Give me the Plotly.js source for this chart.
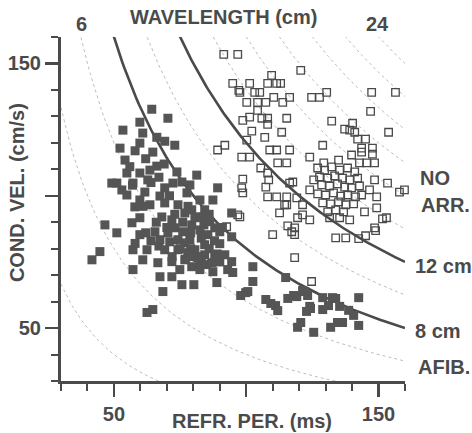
<!DOCTYPE html>
<html>
<head>
<meta charset="utf-8">
<script src="https://cdn.plot.ly/plotly-3.0.1.min.js"></script>
<style>html,body{margin:0;padding:0;background:#fff;}#chart{width:472px;height:433px;}</style>
</head>
<body>
<div id="chart"></div>
<script>
// AFIB (filled squares): refractory period (ms) and conduction velocity (cm/s)
const afibRP = [
  64.3,70.4,59.8,53.4,60.9,66.2,69.2,59.8,52.3,64.7,
  73.0,54.2,66.2,54.9,59.8,63.6,73.8,81.3,51.1,57.2,
  72.3,75.7,78.7,54.9,59.8,67.4,77.6,82.5,89.2,87.4,
  62.8,69.2,49.2,53.0,57.9,63.6,69.2,74.2,79.4,84.3,
  94.5,83.2,59.8,68.1,71.9,76.8,79.4,46.6,56.8,51.1,
  59.8,65.5,70.4,76.0,82.5,85.5,88.1,94.5,44.7,41.7,
  57.2,62.5,69.2,74.2,76.8,80.6,84.3,90.0,60.9,66.6,
  57.2,71.9,76.8,79.4,81.7,87.0,88.1,94.5,94.9,102.5,
  67.4,71.9,75.7,80.2,68.5,88.9,87.4,102.5,100.6,62.5,
  64.7,78.7,74.2,71.1,82.5,74.9,84.3,77.9,73.0,67.4,
  80.6,86.2,90.0,91.9,82.5,93.0,61.7,
  78,81,84,86,76,73,79,83,88,91,
  75,79,83,86,89,77,80,85,90,72,
  70,66,64,67,62,58,61,64,67,71,
  56,58,62,57,69,
  99.8,97.9,114.9,111.1,111.9,115.7,117.9,121.3,123.2,124.3,
  128.9,131.1,133.8,120.6,119.4,125.5,131.9,136.4,142.5,142.5,
  138.7,140.6,119.1,122.1,132.6,135.3,128.9,124.0,122.8,134.5,107.4,109.3
];
const afibCV = [
  132.7,129.3,127.8,124.8,123.7,122.1,120.6,119.9,118.0,116.5,
  119.1,113.5,111.2,108.6,108.6,109.7,109.0,107.8,104.8,104.8,
  104.8,105.2,104.1,100.3,98.4,99.9,101.1,98.4,103.0,98.4,
  106.0,103.0,104.8,102.2,95.8,96.6,97.3,96.6,94.7,94.7,
  93.5,92.0,91.7,92.0,90.9,93.5,89.0,89.0,89.8,86.0,
  85.3,86.4,86.0,86.4,87.1,85.3,87.9,84.5,78.9,75.8,
  79.6,79.6,79.6,79.6,82.2,79.6,81.5,81.9,75.8,74.7,
  72.1,75.1,75.8,73.2,76.6,74.7,77.7,75.1,71.0,73.2,
  69.4,69.4,66.4,66.4,63.8,67.2,71.3,67.6,63.8,55.9,
  57.0,83.4,83.4,82.6,72.1,72.1,77.7,78.5,87.9,83.4,
  91.7,90.2,86.4,77.7,75.1,72.1,101.4,
  96,92,89,93,90,93,86,84,83,88,
  80,80,77,80,78,76,77,74,75,77,
  88,90,83,81,86,82,96,105,107,100,
  111,117,114,104,112,
  63.4,62.3,69.1,58.5,56.6,61.2,62.3,64.2,62.3,57.4,
  61.5,58.5,61.2,52.1,50.3,48.4,50.3,52.1,61.5,51.0,
  56.7,54.8,61.9,63.8,61.5,58.2,57.0,58.2,56.3,52.1,60.8,59.3
];
// NO ARR. (open squares)
const noarrRP = [
  91.5,96.8,120.6,109.6,94.9,101.3,108.1,111.5,97.6,103.2,
  105.1,100.2,104.3,107.4,110.4,113.8,116.4,124.7,127.7,130.4,
  147.4,156.4,147.0,104.3,98.7,101.3,105.9,108.1,108.1,115.3,
  132.3,140.2,137.2,139.1,141.0,142.1,145.1,153.8,102.1,107.0,
  113.4,100.2,91.9,89.2,108.9,111.5,116.4,128.9,143.6,147.7,
  98.3,101.3,124.0,139.8,143.6,147.7,105.5,108.1,111.9,115.3,
  142.8,145.5,148.5,98.7,98.3,98.7,116.4,108.1,111.5,115.3,
  115.3,112.6,97.6,92.6,96.8,114.5,115.7,117.2,110.0,118.3,
  119.4,118.3,124.7,133.8,137.6,142.5,145.1,148.9,151.5,117.6,
  124.0,119.1,121.3,121.3,124.0,118.3,131.5,135.3,139.1,144.7,
  149.3,153.0,148.5,148.5,153.4,146.6,149.3,157.9,159.8,134.9,
  129.3,127.0,129.6,132.3,135.3,138.3,141.0,127.7,130.8,133.4,
  136.4,139.1,142.1,128.5,131.5,134.5,137.2,139.8,142.8,127.0,
  130.0,133.0,135.7,138.3,141.3,128.9,131.9,134.9,137.6,140.6,
  125.5,143.6,133.8,130.8,136.8,108.5,107.4,97.2,113.0
];
const noarrCV = [
  153.4,153.4,147.4,145.5,142.5,142.5,142.5,142.5,139.1,139.1,
  139.1,135.3,135.3,135.3,137.2,135.3,137.2,137.2,137.2,139.1,
  139.1,139.1,131.9,132.3,128.5,129.7,129.3,129.3,127.0,129.3,
  128.2,127.4,125.2,124.8,124.0,121.4,121.4,124.0,124.4,122.1,
  124.0,121.0,119.1,117.3,117.3,117.3,117.3,119.1,118.0,118.0,
  114.6,114.6,114.6,115.4,116.5,115.7,110.5,108.6,112.4,112.4,
  112.4,112.4,112.4,106.3,103.0,101.1,104.8,99.6,99.6,99.6,
  96.6,93.5,92.0,88.3,92.8,96.6,88.6,86.4,85.3,85.3,
  91.7,76.6,67.6,84.1,84.1,83.8,84.9,86.8,91.3,105.2,
  102.2,99.2,96.6,92.8,90.9,87.9,91.7,91.7,90.9,93.9,
  95.4,91.7,87.9,106.0,104.8,102.2,99.6,101.4,102.2,113.5,
  112.4,110.5,109.7,110.9,109.7,110.5,109.0,107.1,106.7,107.5,
  106.7,106.0,106.7,104.1,103.7,104.5,103.3,103.0,103.7,100.7,
  100.3,101.1,99.9,100.3,99.6,97.3,96.9,97.7,96.6,96.9,
  106.0,100.3,94.7,93.9,93.9,106.0,103.3,139.8,142.5
];
// Iso-wavelength curves (cm): wavelength = CV * RP
const solidWavelengths = [8, 12];
const dottedWavelengths = [2, 4, 6, 10, 14, 16, 18, 20, 22, 24];
const tickVals = [50, 100, 150];
const tickText = ['50', '', '150'];

const INK = '#4a4a4a';
const FONT = 'Liberation Sans, Arial, Helvetica, sans-serif';

function isoCurve(lambda) {
  const xs = [], ys = [];
  const x0 = Math.max(30, lambda * 1000 / 162);
  for (let i = 0; i <= 120; i++) {
    const x = x0 + (160 - x0) * i / 120;
    xs.push(x); ys.push(lambda * 1000 / x);
  }
  return {xs, ys};
}

const traces = [];
dottedWavelengths.forEach(l => {
  const c = isoCurve(l);
  traces.push({x: c.xs, y: c.ys, mode: 'lines', type: 'scatter', hoverinfo: 'skip',
    line: {color: '#bdbdbd', width: 1, dash: 'dot'}});
});
solidWavelengths.forEach(l => {
  const c = isoCurve(l);
  traces.push({x: c.xs, y: c.ys, mode: 'lines', type: 'scatter', hoverinfo: 'skip',
    line: {color: INK, width: 2.6}});
});
traces.push({x: noarrRP, y: noarrCV, mode: 'markers', type: 'scatter', cliponaxis: false,
  marker: {symbol: 'square-open', size: 7.5, color: INK, line: {width: 1.3, color: INK}}});
traces.push({x: afibRP, y: afibCV, mode: 'markers', type: 'scatter', cliponaxis: false,
  marker: {symbol: 'square', size: 9, color: '#555555', line: {width: 0}}});

function ann(text, x, y, xanchor, extra) {
  return Object.assign({text: text, x: x, y: y, xref: 'paper', yref: 'paper',
    xanchor: xanchor || 'center', yanchor: 'middle', showarrow: false,
    font: {family: FONT, size: 20, color: INK, weight: 'bold'}}, extra || {});
}

const axisCommon = {
  range: [30, 160], showline: true, linewidth: 3, linecolor: INK,
  showgrid: false, zeroline: false, ticks: 'outside',
  tickmode: 'array', tickvals: tickVals, ticktext: tickText,
  ticklen: 13, tickwidth: 2.5, tickcolor: INK,
  tickfont: {family: FONT, size: 20, color: INK, weight: 'bold'},
  minor: {dtick: 10, tick0: 0, ticklen: 7, tickwidth: 2, tickcolor: INK, ticks: 'outside', showgrid: false},
  fixedrange: true
};

const layout = {
  width: 472, height: 433,
  margin: {l: 61, r: 67, t: 37, b: 52, pad: 0},
  paper_bgcolor: '#ffffff', plot_bgcolor: '#ffffff',
  showlegend: false,
  xaxis: Object.assign({}, axisCommon),
  yaxis: Object.assign({}, axisCommon),
  annotations: [
    ann('WAVELENGTH (cm)', 0.471, 1.058),
    ann('6', 0.061, 1.038),
    ann('24', 0.919, 1.039),
    ann('NO', 1.038, 0.590, 'left'),
    ann('ARR.', 1.041, 0.512, 'left'),
    ann('12 cm', 1.023, 0.334, 'left'),
    ann('8 cm', 1.023, 0.145, 'left'),
    ann('AFIB.', 1.032, 0.041, 'left'),
    ann('REFR. PER. (ms)', 0.555, -0.116),
    ann('COND. VEL. (cm/s)', -0.128, 0.549, 'center', {textangle: -90})
  ]
};

Plotly.newPlot('chart', traces, layout, {staticPlot: true, displayModeBar: false});
</script>
</body>
</html>
